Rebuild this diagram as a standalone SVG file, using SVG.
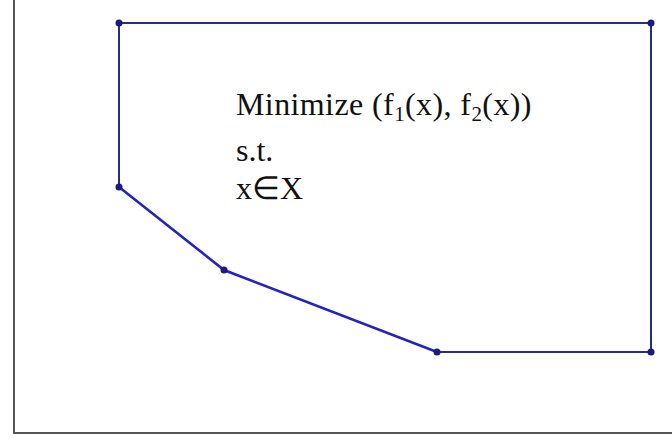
<svg xmlns="http://www.w3.org/2000/svg" width="672" height="439" viewBox="0 0 672 439">
<style>
.axis{stroke:#555;stroke-width:2;fill:none}
.top{stroke:#2a2a8a;stroke-width:2;fill:none}
.low{stroke:#2323c0;stroke-width:2.6;fill:none}
.dot{fill:#1a1a80}
.t{font-family:"Liberation Serif","Times New Roman",serif;font-size:32px;fill:#111}
</style>
<rect width="672" height="439" fill="#fff"/>
<g id="axes">
<polyline class="axis" points="14,0 14,433 672,433"/>
</g>
<g id="connectors">
<polyline class="top" points="119,187 119,23 651,23 651,352 437,352"/>
<polyline class="low" points="437,352 224,270 119,187"/>
</g>
<g id="vertices">
<circle class="dot" cx="119" cy="23" r="3.5"/>
<circle class="dot" cx="651" cy="23" r="3.5"/>
<circle class="dot" cx="651" cy="352" r="3.5"/>
<circle class="dot" cx="437" cy="352" r="3.5"/>
<circle class="dot" cx="224" cy="270" r="3.5"/>
<circle class="dot" cx="119" cy="187" r="3.5"/>
</g>
<g id="label">
<text class="t" x="236" y="115" letter-spacing="0.4">Minimize (f<tspan font-size="21" dy="6">1</tspan><tspan dy="-6">(x), f</tspan><tspan font-size="21" dy="6">2</tspan><tspan dy="-6">(x))</tspan></text>
<text class="t" x="236" y="161">s.t.</text>
<text class="t" x="236" y="199">x∈X</text>
</g>
</svg>
